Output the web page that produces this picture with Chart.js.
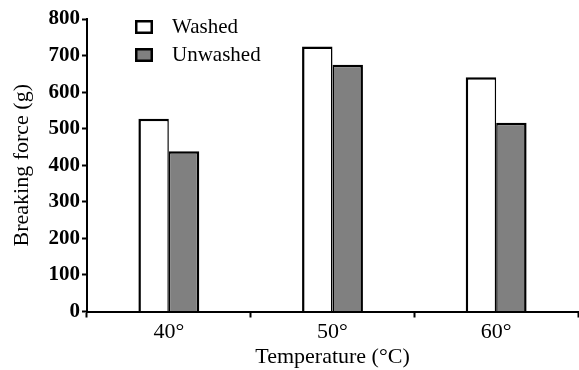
<!DOCTYPE html>
<html>
<head>
<meta charset="utf-8">
<script src="https://cdn.jsdelivr.net/npm/chart.js@4/dist/chart.umd.min.js"></script>
<style>
  html, body { margin: 0; padding: 0; background: #fff; }
  #wrap { width: 579px; height: 370px; }
</style>
</head>
<body>
<div id="wrap"><canvas id="c"></canvas></div>
<script>
const categories = ["40°", "50°", "60°"];
const washed = [527, 725, 641];
const unwashed = [438, 675, 516];
const yTicks = [0, 100, 200, 300, 400, 500, 600, 700, 800];

const serif = "'Liberation Serif', 'Times New Roman', serif";

// legend drawn inside the plot, top-left, like the original
const boxLegend = {
  id: 'boxLegend',
  afterDraw(chart) {
    const ctx = chart.ctx;
    ctx.save();
    chart.data.datasets.forEach((ds, i) => {
      const y = 20 + i * 28;
      ctx.fillStyle = ds.backgroundColor;
      ctx.fillRect(135, y, 18, 14);
      ctx.lineWidth = 2.5;
      ctx.strokeStyle = '#000';
      ctx.strokeRect(136.25, y + 1.25, 15.5, 11.5);
      ctx.fillStyle = '#000';
      ctx.font = "21px " + serif;
      ctx.textBaseline = 'middle';
      ctx.textAlign = 'left';
      ctx.fillText(ds.label, 172, y + 7);
    });
    ctx.restore();
  }
};

new Chart(document.getElementById('c'), {
  type: 'bar',
  data: {
    labels: categories,
    datasets: [
      {
        label: 'Washed', data: washed,
        backgroundColor: '#ffffff', borderColor: '#000000',
        borderWidth: { top: 2.5, left: 2.5, right: 1.5, bottom: 0 }, borderSkipped: false
      },
      {
        label: 'Unwashed', data: unwashed,
        backgroundColor: '#808080', borderColor: '#000000',
        borderWidth: { top: 2.5, left: 1.5, right: 2.5, bottom: 0 }, borderSkipped: false
      }
    ]
  },
  options: {
    responsive: true,
    maintainAspectRatio: false,
    animation: false,
    layout: { padding: { top: 19, right: 1, bottom: 0, left: 0 } },
    datasets: { bar: { categoryPercentage: 0.372, barPercentage: 1 } },
    plugins: { legend: { display: false }, tooltip: { enabled: false } },
    scales: {
      x: {
        afterFit(s) { s.height = 58.5; },
        grid: { drawOnChartArea: false, tickLength: 6, tickWidth: 2, color: '#000', offset: true },
        border: { display: true, color: '#000', width: 2 },
        ticks: { color: '#000', padding: 2, font: { family: serif, size: 22 } },
        title: {
          display: true, text: 'Temperature (°C)', color: '#000',
          font: { family: serif, size: 22 }, padding: { top: 0, bottom: 0 }
        }
      },
      y: {
        min: 0, max: 800,
        afterFit(s) { s.width = 87; },
        afterBuildTicks(s) { s.ticks = yTicks.map(v => ({ value: v })); },
        grid: { drawOnChartArea: false, tickLength: 5, tickWidth: 2, color: '#000' },
        border: { display: true, color: '#000', width: 2 },
        ticks: { color: '#000', padding: 2, font: { family: serif, size: 21, weight: 'bold' } },
        title: {
          display: true, text: 'Breaking force (g)', color: '#000',
          font: { family: serif, size: 22 }, padding: { top: 9, bottom: 0 }
        }
      }
    }
  },
  plugins: [boxLegend]
});
</script>
</body>
</html>
